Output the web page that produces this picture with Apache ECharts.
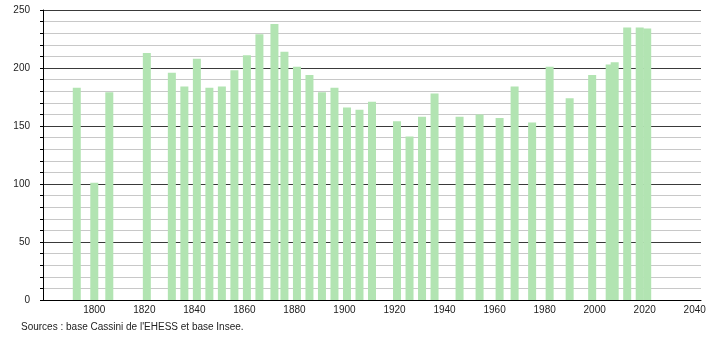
<!DOCTYPE html>
<html>
<head>
<meta charset="utf-8">
<script src="https://cdn.jsdelivr.net/npm/echarts@6/dist/echarts.min.js"></script>
<style>
html,body{margin:0;padding:0;background:#fff;}
#chart{width:710px;height:340px;}
</style>
</head>
<body>
<div id="chart"></div>
<script>
const years = [1793,1800,1806,1821,1831,1836,1841,1846,1851,1856,1861,1866,1872,1876,1881,1886,1891,1896,1901,1906,1911,1921,1926,1931,1936,1946,1954,1962,1968,1975,1982,1990,1999,2006,2008,2013,2018,2021];
const population = [183,101,179,213,196,184,208,183,184,198,211,229,238,214,201,194,179,183,166,164,171,154,141,158,178,158,160,157,184,153,201,174,194,203,205,235,235,234];
const xTicks = [1800,1820,1840,1860,1880,1900,1920,1940,1960,1980,2000,2020,2040];
const yTicks = [0,50,100,150,200,250];
const sourceText = "Sources : base Cassini de l'EHESS et base Insee.";

const chart = echarts.init(document.getElementById('chart'), null, {renderer:'canvas'});
const font = 'Liberation Sans, Arial, sans-serif';
chart.setOption({
  animation:false,
  backgroundColor:'#fff',
  grid:{left:43, right:9, top:10, bottom:40, containLabel:false},
  xAxis:{
    type:'value', min:1779.5, max:2042.5,
    axisLine:{show:true, lineStyle:{color:'#000', width:1}},
    axisTick:{show:false},
    splitLine:{show:false},
    axisLabel:{
      color:'#222', fontSize:10, fontFamily:font, margin:5,
      customValues: xTicks,
      formatter:function(v){ return String(v); }
    }
  },
  yAxis:[
    {
      type:'value', min:0, max:250, interval:10, position:'left',
      axisLine:{show:false},
      axisTick:{show:true, length:3, inside:false, lineStyle:{color:'#000'}},
      axisLabel:{show:false},
      splitLine:{show:true, lineStyle:{color:'#c8c8c8', width:1}}
    },
    {
      type:'value', min:0, max:250, interval:50, position:'left', offset:0,
      axisLine:{show:true, lineStyle:{color:'#000', width:1}},
      axisTick:{show:false},
      axisLabel:{color:'#222', fontSize:10, fontFamily:font, margin:13,
        formatter:function(v){ return yTicks.indexOf(v) >= 0 ? String(v) : ''; }},
      splitLine:{show:true, lineStyle:{color:'#3a3a3a', width:1}}
    }
  ],
  series:[{
    type:'bar',
    xAxisIndex:0, yAxisIndex:0,
    barWidth:8,
    itemStyle:{color:'#b2e4b2'},
    data: years.map(function(y,i){ return [y, population[i]]; })
  }],
  graphic:[{
    type:'text', left:21, top:322,
    style:{text:sourceText, fill:'#222', fontSize:10, fontFamily:font}
  }]
});
</script>
</body>
</html>
